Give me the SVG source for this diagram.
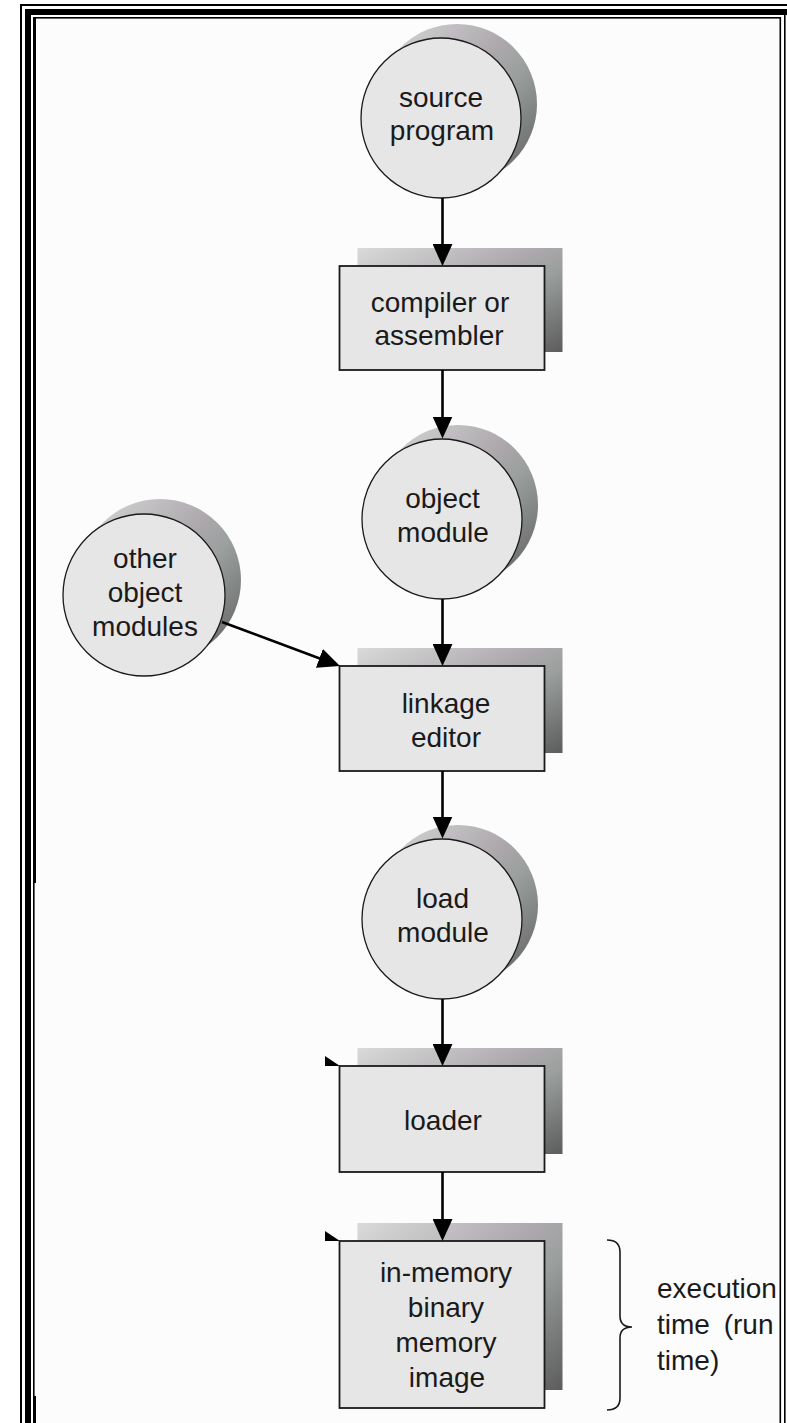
<svg xmlns="http://www.w3.org/2000/svg" width="787" height="1423" viewBox="0 0 787 1423">
  <style>
    .lbl { font-family: "Liberation Sans", Arial, Helvetica, sans-serif; font-size: 28px; fill: #1a1a1a; text-anchor: middle; }
    .note { font-family: "Liberation Sans", Arial, Helvetica, sans-serif; font-size: 28px; fill: #1a1a1a; }
    .body { fill: #e6e6e6; stroke: #1a1a1a; stroke-width: 1.3; }
    .box { fill: #e6e6e6; stroke: #1a1a1a; stroke-width: 1.8; }
    .shadow { fill: url(#sh); stroke: none; }
    .conn { stroke: #000; stroke-width: 2.6; fill: none; marker-end: url(#arrow); }
    .brace { stroke: #1a1a1a; stroke-width: 1.6; fill: none; }
    .blk { fill: #000; }
  </style>
  <defs>
    <linearGradient id="sh" x1="0" y1="0" x2="1" y2="1">
      <stop offset="0" stop-color="#dadada"/>
      <stop offset="0.45" stop-color="#aca8ac"/>
      <stop offset="0.6" stop-color="#9a9f9d"/>
      <stop offset="1" stop-color="#5c5c5c"/>
    </linearGradient>
    <marker id="arrow" markerUnits="userSpaceOnUse" markerWidth="22" markerHeight="20" refX="14" refY="10" orient="auto">
      <path d="M0,0 L22,10 L0,20 Z" fill="#000"/>
    </marker>
  </defs>

  <!-- page and frame -->
  <g id="frame">
    <rect x="0" y="0" width="787" height="1423" fill="#ffffff"/>
    <rect x="34" y="18" width="746" height="1405" fill="#fcfcfc"/>
    <rect class="blk" x="20" y="4" width="767" height="2"/>
    <rect class="blk" x="20" y="4" width="2" height="1419"/>
    <rect class="blk" x="25" y="9" width="762" height="6"/>
    <rect class="blk" x="25" y="9" width="6" height="1414"/>
    <rect class="blk" x="33" y="17" width="748" height="1.6"/>
    <rect class="blk" x="33" y="17" width="1.6" height="1406"/>
    <rect class="blk" x="33" y="17" width="3" height="866"/>
    <rect class="blk" x="33" y="1396" width="3" height="27"/>
    <rect class="blk" x="779.5" y="17" width="1.6" height="1406"/>
    <rect class="blk" x="784" y="15" width="1.6" height="1408"/>
  </g>

  <g id="source-program">
    <circle class="shadow" cx="457" cy="104" r="80"/>
    <circle class="body" cx="441" cy="118" r="80"/>
    <text class="lbl" x="441" y="107">source</text>
    <text class="lbl" x="442" y="140">program</text>
  </g>

  <g id="compiler">
    <rect class="shadow" x="357.5" y="248" width="205" height="104"/>
    <rect class="box" x="339.5" y="266" width="205" height="104"/>
    <text class="lbl" x="440" y="312">compiler or</text>
    <text class="lbl" x="439" y="345">assembler</text>
  </g>

  <g id="object-module">
    <circle class="shadow" cx="458" cy="505" r="80"/>
    <circle class="body" cx="442" cy="519" r="80"/>
    <text class="lbl" x="442.5" y="508">object</text>
    <text class="lbl" x="443" y="542">module</text>
  </g>

  <g id="other-object-modules">
    <circle class="shadow" cx="160" cy="580" r="81"/>
    <circle class="body" cx="144" cy="595" r="81"/>
    <text class="lbl" x="145" y="568">other</text>
    <text class="lbl" x="145" y="602">object</text>
    <text class="lbl" x="145" y="636">modules</text>
  </g>

  <g id="linkage-editor">
    <rect class="shadow" x="357.5" y="648" width="205" height="105"/>
    <rect class="box" x="339.5" y="666" width="205" height="105"/>
    <text class="lbl" x="446" y="713">linkage</text>
    <text class="lbl" x="446" y="747">editor</text>
  </g>

  <g id="load-module">
    <circle class="shadow" cx="458" cy="905" r="80"/>
    <circle class="body" cx="442" cy="919" r="80"/>
    <text class="lbl" x="442.5" y="908">load</text>
    <text class="lbl" x="443" y="942">module</text>
  </g>

  <g id="loader">
    <rect class="shadow" x="357.5" y="1048" width="205" height="106"/>
    <polygon class="blk" points="325,1056 325,1066 340,1066"/>
    <rect class="box" x="339.5" y="1066" width="205" height="106"/>
    <text class="lbl" x="443" y="1130">loader</text>
  </g>

  <g id="in-memory-image">
    <rect class="shadow" x="357.5" y="1223" width="205" height="167"/>
    <polygon class="blk" points="325,1231 325,1241 340,1241"/>
    <rect class="box" x="339.5" y="1241" width="205" height="167"/>
    <text class="lbl" x="446" y="1282">in-memory</text>
    <text class="lbl" x="446" y="1317">binary</text>
    <text class="lbl" x="446" y="1352">memory</text>
    <text class="lbl" x="447" y="1387">image</text>
  </g>

  <g id="execution-time">
    <path class="brace" d="M607,1240 Q620,1240 620,1252 L620,1316 Q620,1327 632,1327 Q620,1327 620,1338 L620,1398 Q620,1410 607,1410"/>
    <text class="note" x="657" y="1298">execution</text>
    <text class="note" x="657" y="1334" word-spacing="6">time (run</text>
    <text class="note" x="657" y="1370">time)</text>
  </g>

  <!-- connectors (drawn above node shadows) -->
  <g id="connectors">
    <line class="conn" x1="442.5" y1="198" x2="442.5" y2="258"/>
    <line class="conn" x1="442.5" y1="370" x2="442.5" y2="430.5"/>
    <line class="conn" x1="442.5" y1="599" x2="442.5" y2="658"/>
    <line class="conn" x1="222" y1="622" x2="332.5" y2="663.2"/>
    <line class="conn" x1="442.5" y1="771" x2="442.5" y2="830.5"/>
    <line class="conn" x1="442.5" y1="999" x2="442.5" y2="1058"/>
    <line class="conn" x1="442.5" y1="1172" x2="442.5" y2="1233"/>
  </g>
</svg>
